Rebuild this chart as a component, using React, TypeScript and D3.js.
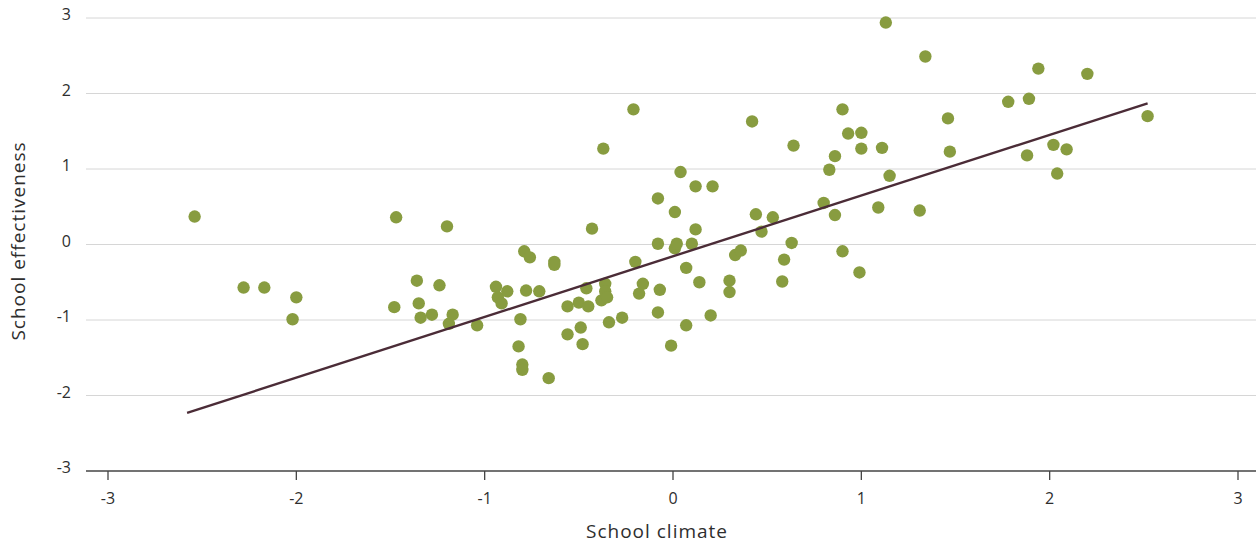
import React from "react";
import * as d3 from "d3";

// School climate (x) and school effectiveness (y) for each school
const climate = [
  -2.54, -2.28, -2.17, -2.0, -2.02, -1.47, -1.48, -1.36, -1.35, -1.34, -1.28, -1.24, -1.2, -1.19,
  -1.17, -1.04, -0.94, -0.93, -0.91, -0.88, -0.81, -0.82, -0.8, -0.8, -0.79, -0.76, -0.78, -0.71,
  -0.66, -0.63, -0.63, -0.56, -0.56, -0.5, -0.49, -0.48, -0.46, -0.45, -0.43, -0.38, -0.37, -0.36,
  -0.36, -0.35, -0.34, -0.27, -0.21, -0.2, -0.18, -0.16, -0.08, -0.08, -0.08, -0.07, -0.01, 0.01,
  0.01, 0.02, 0.04, 0.07, 0.07, 0.1, 0.12, 0.12, 0.14, 0.2, 0.21, 0.3, 0.3, 0.33, 0.36, 0.42, 0.44,
  0.47, 0.53, 0.59, 0.58, 0.64, 0.63, 0.8, 0.83, 0.86, 0.86, 0.9, 0.9, 0.93, 0.99, 1.0, 1.0, 1.09,
  1.11, 1.13, 1.15, 1.31, 1.34, 1.46, 1.47, 1.78, 1.88, 1.89, 1.94, 2.02, 2.04, 2.09, 2.2, 2.52,
];
const effectiveness = [
  0.37, -0.57, -0.57, -0.7, -0.99, 0.36, -0.83, -0.48, -0.78, -0.97, -0.93, -0.54, 0.24, -1.05,
  -0.93, -1.07, -0.56, -0.7, -0.78, -0.62, -0.99, -1.35, -1.59, -1.66, -0.09, -0.17, -0.61, -0.62,
  -1.77, -0.23, -0.27, -0.82, -1.19, -0.77, -1.1, -1.32, -0.58, -0.82, 0.21, -0.74, 1.27, -0.52,
  -0.62, -0.7, -1.03, -0.97, 1.79, -0.23, -0.65, -0.52, 0.61, 0.01, -0.9, -0.6, -1.34, -0.05,
  0.43, 0.01, 0.96, -0.31, -1.07, 0.01, 0.77, 0.2, -0.5, -0.94, 0.77, -0.48, -0.63, -0.14, -0.08,
  1.63, 0.4, 0.17, 0.36, -0.2, -0.49, 1.31, 0.02, 0.55, 0.99, 0.39, 1.17, -0.09, 1.79, 1.47, -0.37,
  1.48, 1.27, 0.49, 1.28, 2.94, 0.91, 0.45, 2.49, 1.67, 1.23, 1.89, 1.18, 1.93, 2.33, 1.32, 0.94,
  1.26, 2.26, 1.7,
];

// Fitted line endpoints (x, y)
const trendX = [-2.58, 2.52];
const trendY = [-2.23, 1.87];

const xTicks = [-3, -2, -1, 0, 1, 2, 3];
const yTicks = [-3, -2, -1, 0, 1, 2, 3];

const width = 1256;
const height = 546;
const font = "'Open Sans', sans-serif";

const App = () => {
  const x = d3.scaleLinear().domain([-3, 3]).range([108, 1238]);
  const y = d3.scaleLinear().domain([-3, 3]).range([471, 18]);
  const gridLeft = 86;

  const points = climate.map((c, i) => ({ c, e: effectiveness[i] }));
  const trend = trendX.map((v, i) => [v, trendY[i]] as [number, number]);
  const line = d3
    .line<[number, number]>()
    .x((d) => x(d[0]))
    .y((d) => y(d[1]));

  return (
    <svg
      width={width}
      height={height}
      style={{ position: "absolute", left: 0, top: 0, display: "block" }}
    >
      {/* horizontal grid + y labels */}
      {yTicks.map((t) => (
        <g key={"y" + t}>
          {t > -3 && (
            <line x1={gridLeft} x2={width} y1={y(t)} y2={y(t)} stroke="#d6d6d6" strokeWidth={1} />
          )}
          <text
            x={71}
            y={y(t) - 2}
            textAnchor="end"
            dominantBaseline="middle"
            fontFamily={font}
            fontSize={16}
            fill="#2e2e2e"
          >
            {t}
          </text>
        </g>
      ))}

      {/* x axis */}
      <line x1={gridLeft} x2={width} y1={y(-3)} y2={y(-3)} stroke="#444" strokeWidth={1.3} />
      {xTicks.map((t) => (
        <g key={"x" + t}>
          <line x1={x(t)} x2={x(t)} y1={y(-3)} y2={y(-3) + 9} stroke="#444" strokeWidth={1.3} />
          <text
            x={x(t)}
            y={500}
            textAnchor="middle"
            dominantBaseline="middle"
            fontFamily={font}
            fontSize={16}
            fill="#2e2e2e"
          >
            {t}
          </text>
        </g>
      ))}

      {/* points */}
      {points.map((p, i) => (
        <circle key={i} cx={x(p.c)} cy={y(p.e)} r={6.2} fill="#889c40" />
      ))}

      {/* trend line */}
      <path d={line(trend) || ""} fill="none" stroke="#4b2c37" strokeWidth={2.4} />

      {/* axis titles */}
      <text
        x={657}
        y={533}
        textAnchor="middle"
        dominantBaseline="middle"
        fontFamily={font}
        fontSize={19}
        fontWeight={500}
        letterSpacing={1}
        fill="#2e2e2e"
      >
        School climate
      </text>
      <text
        transform={`translate(20,241) rotate(-90)`}
        textAnchor="middle"
        dominantBaseline="middle"
        fontFamily={font}
        fontSize={19}
        fontWeight={500}
        letterSpacing={1}
        fill="#2e2e2e"
      >
        School effectiveness
      </text>
    </svg>
  );
};

export default App;
